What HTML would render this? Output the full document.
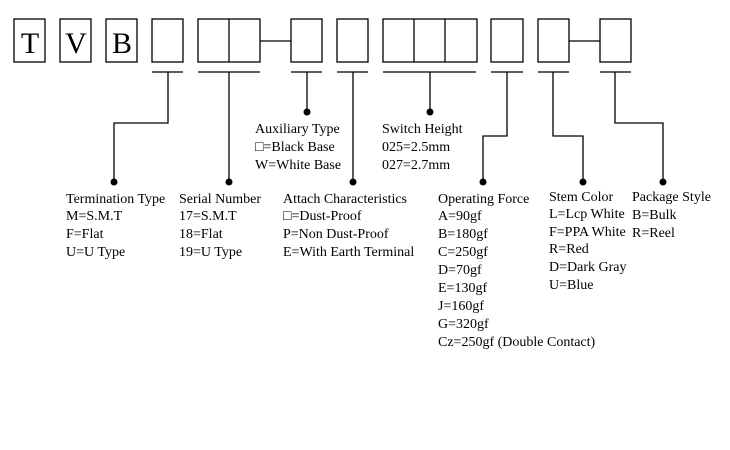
<!DOCTYPE html>
<html><head><meta charset="utf-8"><style>
html,body{margin:0;padding:0;background:#fff;width:730px;height:450px;overflow:hidden}
svg text{font-family:"Liberation Serif",serif;font-size:14px;fill:#000}
</style></head><body>
<svg width="730" height="450" xmlns="http://www.w3.org/2000/svg">
<g fill="none" stroke="#000" stroke-width="1.3">
<rect x="14" y="19" width="31" height="43"/>
<rect x="60" y="19" width="31" height="43"/>
<rect x="106" y="19" width="31" height="43"/>
<rect x="152" y="19" width="31" height="43"/>
<rect x="198" y="19" width="62" height="43"/><line x1="229" y1="19" x2="229" y2="62"/>
<line x1="260" y1="41" x2="291" y2="41"/>
<rect x="291" y="19" width="31" height="43"/>
<rect x="337" y="19" width="31" height="43"/>
<rect x="383" y="19" width="94" height="43"/><line x1="414" y1="19" x2="414" y2="62"/><line x1="445" y1="19" x2="445" y2="62"/>
<rect x="491" y="19" width="32" height="43"/>
<rect x="538" y="19" width="31" height="43"/>
<line x1="569" y1="41" x2="600" y2="41"/>
<rect x="600" y="19" width="31" height="43"/>
<line x1="152" y1="72" x2="183" y2="72"/>
<line x1="198" y1="72" x2="260" y2="72"/>
<line x1="291" y1="72" x2="322" y2="72"/>
<line x1="337" y1="72" x2="368" y2="72"/>
<line x1="383" y1="72" x2="476" y2="72"/>
<line x1="491" y1="72" x2="523" y2="72"/>
<line x1="538" y1="72" x2="569" y2="72"/>
<line x1="600" y1="72" x2="631" y2="72"/>
<polyline points="168,72 168,123 114,123 114,181"/>
<line x1="229" y1="72" x2="229" y2="181"/>
<line x1="307" y1="72" x2="307" y2="112"/>
<line x1="353" y1="72" x2="353" y2="181"/>
<line x1="430" y1="72" x2="430" y2="112"/>
<polyline points="507,72 507,136 483,136 483,181"/>
<polyline points="553,72 553,136 583,136 583,181"/>
<polyline points="615,72 615,123 663,123 663,181"/>
</g>
<g fill="#000">
<circle cx="114" cy="182" r="3.5"/><circle cx="229" cy="182" r="3.5"/><circle cx="307" cy="112" r="3.5"/>
<circle cx="353" cy="182" r="3.5"/><circle cx="430" cy="112" r="3.5"/><circle cx="483" cy="182" r="3.5"/>
<circle cx="583" cy="182" r="3.5"/><circle cx="663" cy="182" r="3.5"/>
</g>
<g style="font-size:30px" text-anchor="middle">
<text x="30" y="53" style="font-size:30px">T</text>
<text x="76" y="53" style="font-size:30px">V</text>
<text x="122" y="53" style="font-size:30px">B</text>
</g>
<text x="255" y="133">Auxiliary Type</text>
<text x="255" y="151">□=Black Base</text>
<text x="255" y="169">W=White Base</text>
<text x="382" y="133">Switch Height</text>
<text x="382" y="151">025=2.5mm</text>
<text x="382" y="169">027=2.7mm</text>
<text x="66" y="203">Termination Type</text>
<text x="66" y="220">M=S.M.T</text>
<text x="66" y="238">F=Flat</text>
<text x="66" y="256">U=U Type</text>
<text x="179" y="203">Serial Number</text>
<text x="179" y="220">17=S.M.T</text>
<text x="179" y="238">18=Flat</text>
<text x="179" y="256">19=U Type</text>
<text x="283" y="203">Attach Characteristics</text>
<text x="283" y="220">□=Dust-Proof</text>
<text x="283" y="238">P=Non Dust-Proof</text>
<text x="283" y="256">E=With Earth Terminal</text>
<text x="438" y="203">Operating Force</text>
<text x="438" y="220">A=90gf</text>
<text x="438" y="238">B=180gf</text>
<text x="438" y="256">C=250gf</text>
<text x="438" y="274">D=70gf</text>
<text x="438" y="292">E=130gf</text>
<text x="438" y="310">J=160gf</text>
<text x="438" y="328">G=320gf</text>
<text x="438" y="346">Cz=250gf (Double Contact)</text>
<text x="549" y="201">Stem Color</text>
<text x="549" y="218">L=Lcp White</text>
<text x="549" y="236">F=PPA White</text>
<text x="549" y="253">R=Red</text>
<text x="549" y="271">D=Dark Gray</text>
<text x="549" y="289">U=Blue</text>
<text x="632" y="201">Package Style</text>
<text x="632" y="219">B=Bulk</text>
<text x="632" y="237">R=Reel</text>
</svg>
</body></html>
